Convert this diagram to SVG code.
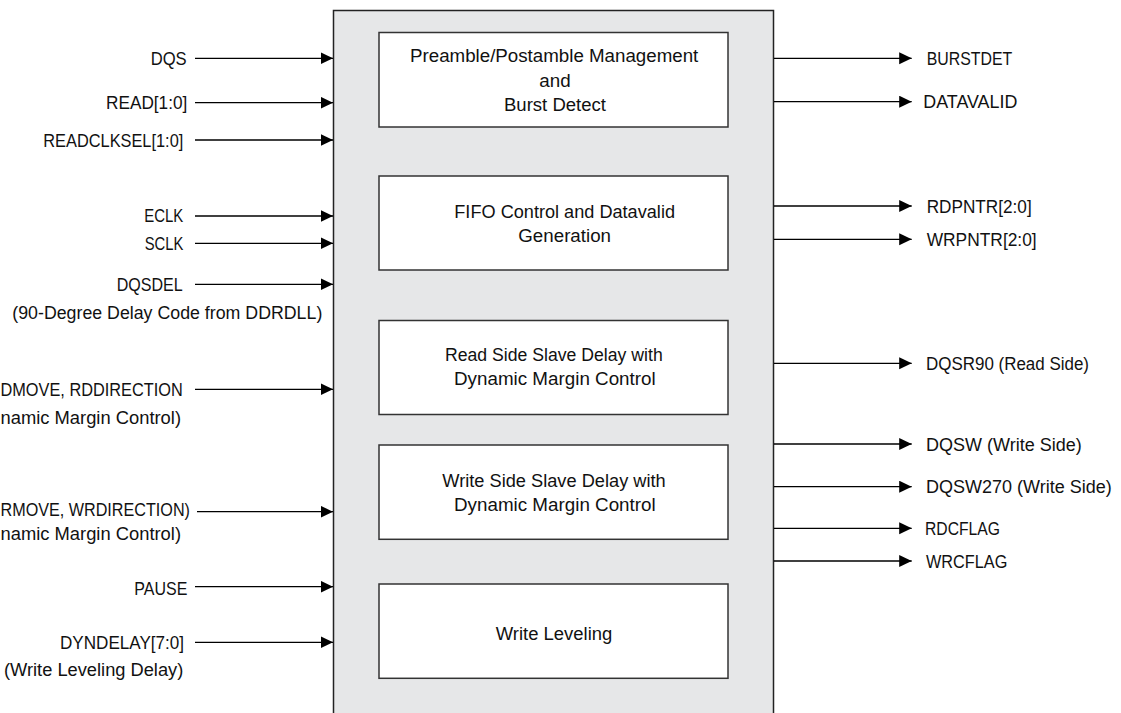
<svg xmlns="http://www.w3.org/2000/svg" width="1121" height="713" viewBox="0 0 1121 713">
<style>
text{font-family:"Liberation Sans",Arial,sans-serif;font-size:17.5px;fill:#111}
.e{text-anchor:end}
.main{fill:#e6e7e8;stroke:#222;stroke-width:1.5}
.blk{fill:#fff;stroke:#333;stroke-width:1.5}
.c{stroke:#000;stroke-width:1.3;fill:none;marker-end:url(#ah)}
</style>
<defs>
<marker id="ah" markerUnits="userSpaceOnUse" markerWidth="13" markerHeight="13" refX="12.5" refY="6" orient="auto">
<path d="M0,0 L12.5,6 L0,12 z" fill="#000"/>
</marker>
</defs>
<rect id="dqsbuf" class="main" x="333.5" y="10.5" width="440" height="720"/>
<g id="preamble">
<rect class="blk" x="379" y="32.5" width="349" height="94.5"/>
<text x="410" y="61.7" textLength="288.3" lengthAdjust="spacingAndGlyphs">Preamble/Postamble Management</text>
<text x="539.3" y="86.7" textLength="31.4" lengthAdjust="spacingAndGlyphs">and</text>
<text x="504" y="111" textLength="102" lengthAdjust="spacingAndGlyphs">Burst Detect</text>
</g>
<g id="fifo">
<rect class="blk" x="379" y="176" width="349" height="94"/>
<text x="454.3" y="218.3" textLength="220.7" lengthAdjust="spacingAndGlyphs">FIFO Control and Datavalid</text>
<text x="518.3" y="241.7" textLength="92.7" lengthAdjust="spacingAndGlyphs">Generation</text>
</g>
<g id="readslave">
<rect class="blk" x="379" y="320.5" width="349" height="94"/>
<text x="445" y="361" textLength="217.7" lengthAdjust="spacingAndGlyphs">Read Side Slave Delay with</text>
<text x="454" y="385" textLength="201.7" lengthAdjust="spacingAndGlyphs">Dynamic Margin Control</text>
</g>
<g id="writeslave">
<rect class="blk" x="379" y="445" width="349" height="94.3"/>
<text x="442.3" y="487.3" textLength="223.4" lengthAdjust="spacingAndGlyphs">Write Side Slave Delay with</text>
<text x="454" y="510.7" textLength="201.7" lengthAdjust="spacingAndGlyphs">Dynamic Margin Control</text>
</g>
<g id="writeleveling">
<rect class="blk" x="379" y="584" width="349" height="94.3"/>
<text x="495.7" y="640" textLength="116.6" lengthAdjust="spacingAndGlyphs">Write Leveling</text>
</g>
<g id="inputs">
<text class="e" x="186.7" y="65" textLength="36" lengthAdjust="spacingAndGlyphs">DQS</text>
<text class="e" x="187.3" y="109" textLength="81.3" lengthAdjust="spacingAndGlyphs">READ[1:0]</text>
<text class="e" x="183.3" y="146.5" textLength="140" lengthAdjust="spacingAndGlyphs">READCLKSEL[1:0]</text>
<text class="e" x="183.3" y="222.3" textLength="39" lengthAdjust="spacingAndGlyphs">ECLK</text>
<text class="e" x="183.3" y="249.6" textLength="38.6" lengthAdjust="spacingAndGlyphs">SCLK</text>
<text class="e" x="182.7" y="290.6" textLength="66" lengthAdjust="spacingAndGlyphs">DQSDEL</text>
<text x="12.3" y="318.5" textLength="310" lengthAdjust="spacingAndGlyphs">(90-Degree Delay Code from DDRDLL)</text>
<text x="0.5" y="396" textLength="182.2" lengthAdjust="spacingAndGlyphs">DMOVE, RDDIRECTION</text>
<text x="0.5" y="423.5" textLength="180.5" lengthAdjust="spacingAndGlyphs">namic Margin Control)</text>
<text x="0.5" y="516" textLength="189.5" lengthAdjust="spacingAndGlyphs">RMOVE, WRDIRECTION)</text>
<text x="0.5" y="540" textLength="180.5" lengthAdjust="spacingAndGlyphs">namic Margin Control)</text>
<text class="e" x="187.3" y="594.7" textLength="53" lengthAdjust="spacingAndGlyphs">PAUSE</text>
<text class="e" x="184" y="648.7" textLength="124" lengthAdjust="spacingAndGlyphs">DYNDELAY[7:0]</text>
<text class="e" x="183.3" y="675.5" textLength="179.3" lengthAdjust="spacingAndGlyphs">(Write Leveling Delay)</text>
</g>
<g id="outputs">
<text x="926.7" y="65" textLength="85.6" lengthAdjust="spacingAndGlyphs">BURSTDET</text>
<text x="923.3" y="108.2" textLength="94" lengthAdjust="spacingAndGlyphs">DATAVALID</text>
<text x="926.7" y="212.5" textLength="105" lengthAdjust="spacingAndGlyphs">RDPNTR[2:0]</text>
<text x="926.7" y="245.8" textLength="110" lengthAdjust="spacingAndGlyphs">WRPNTR[2:0]</text>
<text x="926" y="369.8" textLength="163" lengthAdjust="spacingAndGlyphs">DQSR90 (Read Side)</text>
<text x="926" y="450.5" textLength="155.7" lengthAdjust="spacingAndGlyphs">DQSW (Write Side)</text>
<text x="926" y="493.2" textLength="185.7" lengthAdjust="spacingAndGlyphs">DQSW270 (Write Side)</text>
<text x="925" y="534.8" textLength="75" lengthAdjust="spacingAndGlyphs">RDCFLAG</text>
<text x="926" y="567.5" textLength="81.3" lengthAdjust="spacingAndGlyphs">WRCFLAG</text>
</g>
<g id="connectors">
<line class="c" x1="195" y1="58.3" x2="333" y2="58.3"/>
<line class="c" x1="195" y1="102.7" x2="333" y2="102.7"/>
<line class="c" x1="195" y1="140" x2="333" y2="140"/>
<line class="c" x1="195" y1="216" x2="333" y2="216"/>
<line class="c" x1="195" y1="243.3" x2="333" y2="243.3"/>
<line class="c" x1="195" y1="284.3" x2="333" y2="284.3"/>
<line class="c" x1="195" y1="389.3" x2="333" y2="389.3"/>
<line class="c" x1="197" y1="511.7" x2="333" y2="511.7"/>
<line class="c" x1="195" y1="586.7" x2="333" y2="586.7"/>
<line class="c" x1="195" y1="642.3" x2="333" y2="642.3"/>
<line class="c" x1="774" y1="58.3" x2="911.7" y2="58.3"/>
<line class="c" x1="774" y1="101.7" x2="911.7" y2="101.7"/>
<line class="c" x1="774" y1="206" x2="911.7" y2="206"/>
<line class="c" x1="774" y1="239.3" x2="911.7" y2="239.3"/>
<line class="c" x1="774" y1="363.3" x2="911.7" y2="363.3"/>
<line class="c" x1="774" y1="444" x2="911.7" y2="444"/>
<line class="c" x1="774" y1="486.7" x2="911.7" y2="486.7"/>
<line class="c" x1="774" y1="528.3" x2="911.7" y2="528.3"/>
<line class="c" x1="774" y1="561" x2="911.7" y2="561"/>
</g>
</svg>
